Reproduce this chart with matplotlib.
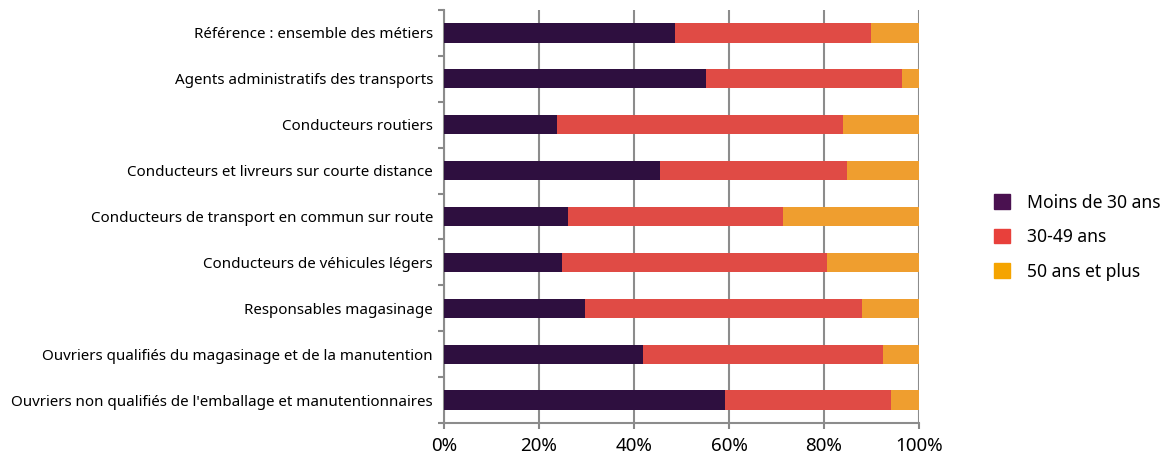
import numpy as np
import matplotlib.pyplot as plt
from matplotlib.patches import Patch
from matplotlib.ticker import FixedLocator, PercentFormatter

categories = [
    "Référence : ensemble des métiers",
    "Agents administratifs des transports",
    "Conducteurs routiers",
    "Conducteurs et livreurs sur courte distance",
    "Conducteurs de transport en commun sur route",
    "Conducteurs de véhicules légers",
    "Responsables magasinage",
    "Ouvriers qualifiés du magasinage et de la manutention",
    "Ouvriers non qualifiés de l'emballage et manutentionnaires",
]
moins_30 = [48.7, 55.1, 23.8, 45.5, 26.2, 24.8, 29.7, 41.8, 59.1]
de_30_49 = [41.1, 41.4, 60.3, 39.4, 45.1, 55.9, 58.3, 50.6, 34.9]
plus_50 = [10.2, 3.5, 15.9, 15.1, 28.7, 19.3, 12.0, 7.6, 6.0]
series_names = ["Moins de 30 ans", "30-49 ans", "50 ans et plus"]

bar_colors = ["#2e0f3f", "#e04b45", "#ef9e2f"]
legend_colors = ["#4a1150", "#e8403b", "#f5a400"]

plt.rcParams['font.family'] = ['Noto Sans', 'DejaVu Sans']

fig = plt.figure(figsize=(11.64, 4.65), dpi=100)
ax = fig.add_axes([444 / 1164, 1 - 423 / 465, 475 / 1164, 413 / 465])

y = np.arange(len(categories))
left = np.zeros(len(categories))
for vals, col in zip([moins_30, de_30_49, plus_50], bar_colors):
    ax.barh(y, vals, left=left, height=0.42, color=col, zorder=3)
    left += np.array(vals)

ax.set_xlim(0, 100)
ax.set_ylim(len(categories) - 0.5, -0.5)
ax.set_xticks(np.arange(0, 101, 20))
ax.xaxis.set_major_formatter(PercentFormatter(decimals=0))
ax.tick_params(axis='x', labelsize=13.5, length=4, color='#888888', width=1.5, pad=6)

ax.set_yticks(y)
ax.set_yticklabels(categories, fontsize=10.9)
ax.tick_params(axis='y', which='major', length=0, pad=8)
ax.yaxis.set_minor_locator(FixedLocator(np.arange(-0.5, len(categories), 1)))
ax.tick_params(axis='y', which='minor', length=4, color='#888888', width=1.5)

ax.grid(axis='x', color='#8c8c8c', linewidth=1.5, zorder=0)
for s in ['top', 'right']:
    ax.spines[s].set_visible(False)
for s in ['left', 'bottom']:
    ax.spines[s].set_color('#8c8c8c')
    ax.spines[s].set_linewidth(1.5)

handles = [Patch(color=c) for c in legend_colors]
fig.legend(handles, series_names, loc='center left', bbox_to_anchor=(978 / 1164, 0.49),
           frameon=False, fontsize=12.6, handlelength=0.9, handleheight=0.9,
           labelspacing=0.95, handletextpad=1.0)

fig.savefig("out.png", dpi=100)
